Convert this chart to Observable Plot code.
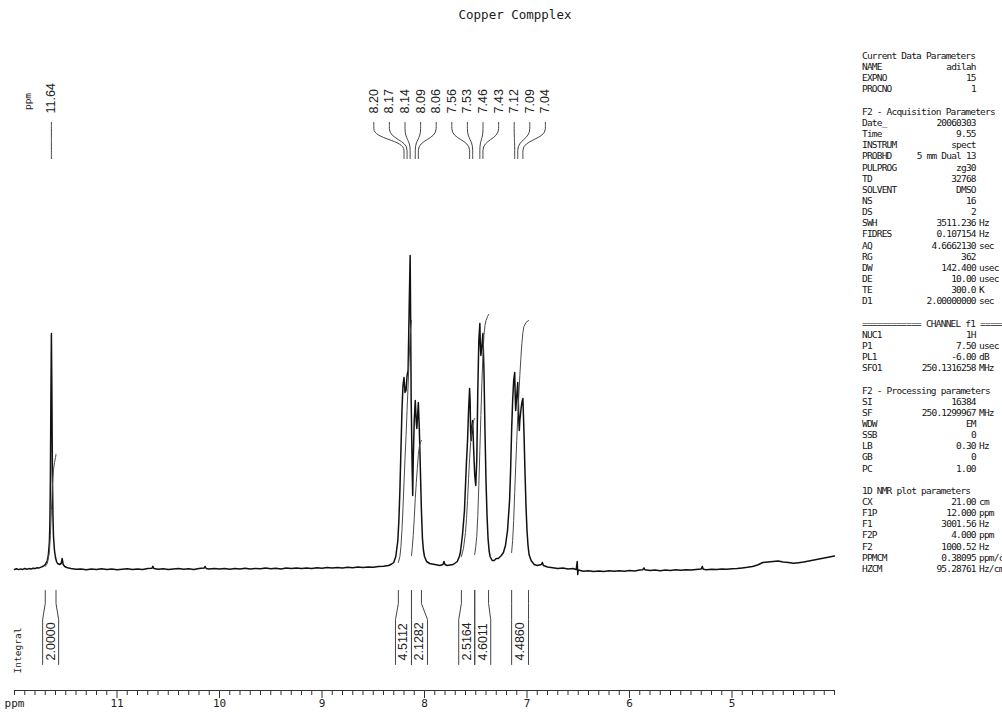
<!DOCTYPE html>
<html><head><meta charset="utf-8">
<script src="https://cdn.jsdelivr.net/npm/d3@7"></script>
<script src="https://cdn.jsdelivr.net/npm/@observablehq/plot@0.6"></script>
<style>
html,body{margin:0;padding:0;background:#fff;width:1002px;height:712px;overflow:hidden}
#wrap{position:relative;width:1002px;height:712px;overflow:hidden}
#title{position:absolute;left:0;top:7px;width:1030px;text-align:center;font-family:"DejaVu Sans Mono";font-size:12.5px;color:#1a1a1a;white-space:pre}
.cell{position:absolute;white-space:pre;font-family:"DejaVu Sans Mono";font-size:9.5px;letter-spacing:-0.8px;color:#141414;line-height:11px}
</style></head><body><div id="wrap"><div id="title"></div></div>
<script>
// ---------------- DATA ----------------
const title = "Copper Compplex";

// 1H spectrum trace: [ppm, intensity]
const spectrum = [
[12.00,1.0],[11.98,1.8],[11.96,0.9],[11.94,1.6],[11.92,1.1],[11.90,2.0],[11.88,1.3],[11.86,1.9],[11.84,1.4],[11.82,2.3],
[11.80,1.9],[11.78,2.7],[11.76,2.6],[11.74,3.4],[11.72,4.2],[11.70,6],[11.68,10],[11.67,15],[11.66,28],[11.655,45],
[11.65,90],[11.645,170],[11.64,237],[11.635,175],[11.63,95],[11.625,55],[11.62,35],[11.61,20],[11.60,13],[11.59,9],
[11.58,7],[11.56,6],[11.545,7],[11.535,12],[11.525,6],[11.51,4],[11.49,3],[11.47,2.4],
[11.45,2.0],[11.40,1.2],[11.35,1.6],[11.30,0.8],[11.25,1.4],[11.20,0.9],[11.15,1.7],[11.10,1.0],[11.05,1.5],[11.00,0.7],
[10.95,1.3],[10.90,1.8],[10.85,1.0],[10.80,1.6],[10.75,1.1],[10.70,1.9],[10.66,2.2],[10.65,4.2],[10.64,2.0],[10.60,1.3],
[10.55,1.8],[10.50,1.0],[10.45,1.5],[10.40,2.0],[10.35,1.2],[10.30,1.7],[10.25,1.1],[10.20,1.9],[10.15,2.4],[10.14,4.0],
[10.13,2.0],[10.10,1.5],[10.05,2.1],[10.00,1.4],[9.95,1.9],[9.90,1.2],[9.85,2.0],[9.80,1.6],[9.75,2.3],[9.70,1.5],
[9.65,2.1],[9.60,1.7],[9.55,2.5],[9.50,1.8],[9.45,2.2],[9.40,1.6],[9.35,2.4],[9.30,2.0],[9.25,2.6],[9.20,1.9],
[9.15,2.5],[9.10,2.1],[9.05,2.8],[9.00,2.3],[8.95,2.9],[8.90,2.4],[8.85,3.0],[8.80,2.6],[8.75,3.2],[8.70,2.8],
[8.65,3.4],[8.60,3.0],[8.55,3.6],[8.50,3.3],[8.45,4.0],[8.40,4.2],[8.35,5.0],[8.32,6.5],[8.30,8],[8.28,14],
[8.26,30],[8.25,50],[8.24,80],[8.23,120],[8.22,160],[8.21,185],[8.20,193],[8.19,178],[8.18,180],[8.17,195],
[8.16,200],[8.15,260],[8.14,315],[8.135,250],[8.13,170],[8.12,100],[8.115,75],[8.11,110],[8.10,150],[8.09,170],
[8.08,148],[8.075,142],[8.07,150],[8.06,168],[8.05,140],[8.04,100],[8.03,60],[8.02,32],[8.01,20],[8.00,14],
[7.98,9],[7.95,7],[7.90,6],[7.85,5],[7.82,6],[7.81,9],[7.80,6],[7.78,5],[7.75,5.5],[7.72,6],
[7.68,9],[7.66,14],[7.65,18],[7.63,35],[7.61,60],[7.60,85],[7.59,110],[7.58,130],[7.57,160],[7.56,182],
[7.555,170],[7.55,140],[7.545,130],[7.54,140],[7.53,150],[7.52,120],[7.51,95],[7.50,85],[7.49,110],[7.48,180],
[7.47,230],[7.46,247],[7.455,225],[7.45,215],[7.44,225],[7.43,237],[7.42,200],[7.41,140],[7.40,90],[7.39,55],
[7.38,32],[7.37,20],[7.36,14],[7.34,10],[7.32,10],[7.30,12],[7.28,12],[7.25,15],[7.23,18],[7.21,25],
[7.19,40],[7.17,70],[7.16,100],[7.15,140],[7.14,170],[7.13,190],[7.12,198],[7.115,175],[7.11,160],[7.10,175],
[7.09,188],[7.085,170],[7.08,150],[7.075,140],[7.07,150],[7.06,160],[7.05,168],[7.04,172],[7.03,140],[7.02,100],
[7.01,65],[7.00,40],[6.99,25],[6.98,16],[6.96,10],[6.93,6],[6.90,5],[6.86,6],[6.85,8],[6.84,5],
[6.80,3.5],[6.75,2.8],[6.70,2.0],[6.65,2.4],[6.60,1.6],[6.55,2.0],[6.52,1.0],[6.51,9],[6.505,-4],[6.50,0.5],
[6.45,-0.8],[6.40,-0.2],[6.35,-1.0],[6.30,-0.4],[6.25,-0.9],[6.20,-0.3],[6.15,-0.8],[6.10,-0.2],[6.05,-0.7],[6.00,0.0],
[5.95,-0.5],[5.90,0.4],[5.87,0.8],[5.86,2.5],[5.85,0.8],[5.80,0.0],[5.75,0.5],[5.70,-0.2],[5.65,0.6],[5.60,0.1],
[5.55,0.7],[5.50,0.2],[5.45,0.8],[5.40,0.4],[5.35,1.0],[5.30,1.6],[5.29,4.0],[5.28,1.2],[5.25,0.8],[5.20,1.3],
[5.15,0.9],[5.10,1.5],[5.05,1.2],[5.00,1.8],[4.95,2.0],[4.90,2.6],[4.85,3.2],[4.80,4.0],[4.75,5.5],[4.72,7.0],
[4.70,8.0],[4.65,8.5],[4.60,9.0],[4.55,9.5],[4.50,8.5],[4.45,8.0],[4.40,7.2],[4.35,7.8],[4.30,8.5],[4.25,9.5],
[4.20,10.5],[4.15,11.5],[4.10,12.5],[4.05,13.5],[4.00,14.5]
];

// picked peaks (ppm)
const peakPpm = [11.64, 8.20, 8.17, 8.14, 8.09, 8.06, 7.56, 7.53, 7.46, 7.43, 7.12, 7.09, 7.04];

// integrals
const integralValues = [2.0000, 4.5112, 2.1282, 2.5164, 4.6011, 4.4860];
const integralFrom   = [11.70, 8.255, 8.127, 7.64, 7.51, 7.15];
const integralTo     = [11.595, 8.127, 8.03, 7.51, 7.375, 6.985];
const integralCurves = [
 [[11.70,4],[11.68,7],[11.66,18],[11.65,35],[11.645,48],[11.64,60],[11.635,72],[11.63,85],[11.62,100],[11.61,108],[11.60,113],[11.595,116]],
 [[8.255,8],[8.24,14],[8.23,24],[8.22,40],[8.21,62],[8.20,88],[8.19,112],[8.18,135],[8.17,160],[8.16,185],[8.15,212],[8.14,235],[8.135,243],[8.127,250]],
 [[8.127,15],[8.12,22],[8.11,35],[8.10,52],[8.09,72],[8.08,88],[8.07,102],[8.06,116],[8.05,124],[8.04,128],[8.03,130]],
 [[7.64,14],[7.62,22],[7.60,38],[7.59,52],[7.58,70],[7.57,92],[7.56,112],[7.55,128],[7.54,138],[7.53,146],[7.52,150],[7.51,152]],
 [[7.51,16],[7.50,24],[7.49,34],[7.48,55],[7.47,85],[7.46,120],[7.45,155],[7.44,188],[7.43,215],[7.42,235],[7.41,245],[7.40,250],[7.385,254],[7.375,256]],
 [[7.15,18],[7.14,30],[7.13,50],[7.12,78],[7.11,105],[7.10,130],[7.09,155],[7.08,175],[7.07,195],[7.06,212],[7.05,227],[7.04,238],[7.03,244],[7.01,248],[6.985,250]]
];

// axis
const majorTicks = [12, 11, 10, 9, 8, 7, 6, 5];
const majorTickLabels = ["ppm", "11", "10", "9", "8", "7", "6", "5"];

// parameter listing
const currentDataParams = [["NAME","adilah",""],["EXPNO","15",""],["PROCNO","1",""]];
const acquisitionParams = [["Date_","20060303",""],["Time","9.55",""],["INSTRUM","spect",""],["PROBHD","5 mm Dual 13",""],
 ["PULPROG","zg30",""],["TD","32768",""],["SOLVENT","DMSO",""],["NS","16",""],["DS","2",""],["SWH","3511.236","Hz"],
 ["FIDRES","0.107154","Hz"],["AQ","4.6662130","sec"],["RG","362",""],["DW","142.400","usec"],["DE","10.00","usec"],
 ["TE","300.0","K"],["D1","2.00000000","sec"]];
const channelParams = [["NUC1","1H",""],["P1","7.50","usec"],["PL1","-6.00","dB"],["SFO1","250.1316258","MHz"]];
const processingParams = [["SI","16384",""],["SF","250.1299967","MHz"],["WDW","EM",""],["SSB","0",""],["LB","0.30","Hz"],["GB","0",""],["PC","1.00",""]];
const plotParams = [["CX","21.00","cm"],["F1P","12.000","ppm"],["F1","3001.56","Hz"],["F2P","4.000","ppm"],["F2","1000.52","Hz"],["PPMCM","0.38095","ppm/cm"],["HZCM","95.28761","Hz/cm"]];
const sectionHeads = ["Current Data Parameters","F2 - Acquisition Parameters","============ CHANNEL f1 ============","F2 - Processing parameters","1D NMR plot parameters"];

// ---------------- LAYOUT ----------------
const W = 1002, H = 712;
const xs = d3.scaleLinear([12, 4], [14, 834]);
const Y = px => 570 - px;            // y scale: 1 unit = 1 px above y=570
const X = px => xs.invert(px);

// peak label spreading
function spread(desired, gap) {
  let cl = desired.map(d => ({n: 1, sum: d}));
  let changed = true;
  while (changed) {
    changed = false;
    for (let i = 0; i < cl.length - 1; i++) {
      const a = cl[i], b = cl[i + 1];
      const aEnd = a.sum / a.n + (a.n - 1) / 2 * gap;
      const bStart = b.sum / b.n - (b.n - 1) / 2 * gap;
      if (bStart - aEnd < gap) { a.n += b.n; a.sum += b.sum; cl.splice(i + 1, 1); changed = true; break; }
    }
  }
  const out = [];
  cl.forEach(c => { const m = c.sum / c.n; for (let k = 0; k < c.n; k++) out.push(m + (k - (c.n - 1) / 2) * gap); });
  return out;
}
const peakPx = peakPpm.map(p => xs(p));
const labelPx = spread(peakPx, 15.6);
const peakLabels = peakPpm.map((p, i) => ({text: p.toFixed(2), lx: labelPx[i], px: peakPx[i]}));
const leaders = peakLabels.flatMap((d, i) => [
  {z: i, x: X(d.lx), y: Y(122)}, {z: i, x: X(d.lx), y: Y(128)},
  {z: i, x: X(d.px), y: Y(150)}, {z: i, x: X(d.px), y: Y(158)}]);

// integral brackets
const nI = integralValues.length;
const boxes = integralValues.map((v, i) => {
  const l = xs(integralFrom[i]), r = xs(integralTo[i]);
  const sharedL = i > 0 && integralTo[i - 1] === integralFrom[i];
  const sharedR = i < nI - 1 && integralFrom[i + 1] === integralTo[i];
  const need = Math.max(0, 16 - (r - l));
  let bl = l, br = r;
  if (sharedL && !sharedR) br += need;
  else if (sharedR && !sharedL) bl -= need;
  else { bl -= need / 2; br += need / 2; }
  return {v, l, r, bl, br};
});
const brackets = boxes.flatMap((b, i) => [
  {z: "L" + i, x: X(b.l), y: Y(590)}, {z: "L" + i, x: X(b.l), y: Y(603)}, {z: "L" + i, x: X(b.bl), y: Y(619)}, {z: "L" + i, x: X(b.bl), y: Y(664)},
  {z: "R" + i, x: X(b.r), y: Y(590)}, {z: "R" + i, x: X(b.r), y: Y(603)}, {z: "R" + i, x: X(b.br), y: Y(619)}, {z: "R" + i, x: X(b.br), y: Y(664)}]);
const integralLabels = boxes.map(b => ({x: X((b.bl + b.br) / 2), text: b.v.toFixed(4)}));
const integralLines = integralCurves.flatMap((c, i) => c.map(([p, v]) => ({z: i, x: p, y: v})));

const minorTicks = d3.range(40, 121).map(i => i / 10).filter(t => !majorTicks.slice(1).includes(t));

const sans = "Liberation Sans, Arial, sans-serif";
const mono = "DejaVu Sans Mono, monospace";
const ink = "#222";

const chart = Plot.plot({
  width: W, height: H, margin: 0,
  x: {domain: [12, 4], range: [14, 834], axis: null},
  y: {domain: [0, 315], range: [570, 255], axis: null},
  style: {background: "transparent", overflow: "visible"},
  marks: [
    // spectrum
    Plot.line(spectrum, {x: d => d[0], y: d => d[1], stroke: "#111", strokeWidth: 1.5, strokeLinejoin: "round"}),
    // integral curves
    Plot.line(integralLines, {x: "x", y: "y", z: "z", stroke: "#4a4a4a", strokeWidth: 1}),
    // peak leaders and labels
    Plot.line(leaders, {x: "x", y: "y", z: "z", curve: "bump-y", stroke: "#444", strokeWidth: 1}),
    Plot.text(peakLabels, {x: d => X(d.lx), y: Y(113), text: "text", rotate: -90, textAnchor: "start", lineAnchor: "middle",
      fontFamily: sans, fontSize: 12.5, fill: ink}),
    Plot.text(["ppm"], {x: X(27), y: Y(101), text: d => d, rotate: -90, textAnchor: "middle", lineAnchor: "middle",
      fontFamily: mono, fontSize: 9.5, fill: ink}),
    // integral brackets and values
    Plot.line(brackets, {x: "x", y: "y", z: "z", stroke: "#444", strokeWidth: 1}),
    Plot.text(integralLabels, {x: "x", y: Y(660), text: "text", rotate: -90, textAnchor: "start", lineAnchor: "middle",
      fontFamily: sans, fontSize: 12.5, fill: ink}),
    Plot.text(["Integral"], {x: X(17), y: Y(650), text: d => d, rotate: -90, textAnchor: "middle", lineAnchor: "middle",
      fontFamily: mono, fontSize: 9.5, fill: ink}),
    // ppm axis
    Plot.ruleY([Y(690)], {x1: 12, x2: 4, stroke: "#333", strokeWidth: 1}),
    Plot.ruleX(minorTicks, {x: d => d, y1: Y(690), y2: Y(695), stroke: "#333", strokeWidth: 1}),
    Plot.ruleX(majorTicks.slice(1), {x: d => d, y1: Y(690), y2: Y(698), stroke: "#333", strokeWidth: 1}),
    Plot.text(majorTickLabels.map((t, i) => ({t, v: majorTicks[i]})), {x: "v", y: Y(699), text: "t", lineAnchor: "top",
      textAnchor: d => d.t === "ppm" ? "start" : "middle", fontFamily: mono, fontSize: 11, fill: ink})
  ]
});
const wrap = document.getElementById("wrap");
wrap.appendChild(chart);
chart.style.position = "absolute"; chart.style.left = "0"; chart.style.top = "0";
document.getElementById("title").textContent = title;

// parameter listing
const lines = [];
[currentDataParams, acquisitionParams, channelParams, processingParams, plotParams].forEach((rows, s) => {
  if (s > 0) lines.push(null);
  lines.push({head: sectionHeads[s]});
  rows.forEach(r => lines.push({name: r[0], value: r[1], unit: r[2]}));
});
function cell(text, left, top, right) {
  const d = document.createElement("div");
  d.className = "cell"; d.textContent = text; d.style.top = top + "px";
  d.style.left = left + "px";
  if (right) d.style.transform = "translateX(-100%)";
  wrap.appendChild(d);
}
lines.forEach((ln, i) => {
  if (!ln) return;
  const top = 56 + i * 11.15 - 6;
  if (ln.head) { cell(ln.head, 862, top); return; }
  cell(ln.name, 862, top);
  cell(ln.value, 975.8, top, true);
  if (ln.unit) cell(ln.unit, 979, top);
});
</script></body></html>
